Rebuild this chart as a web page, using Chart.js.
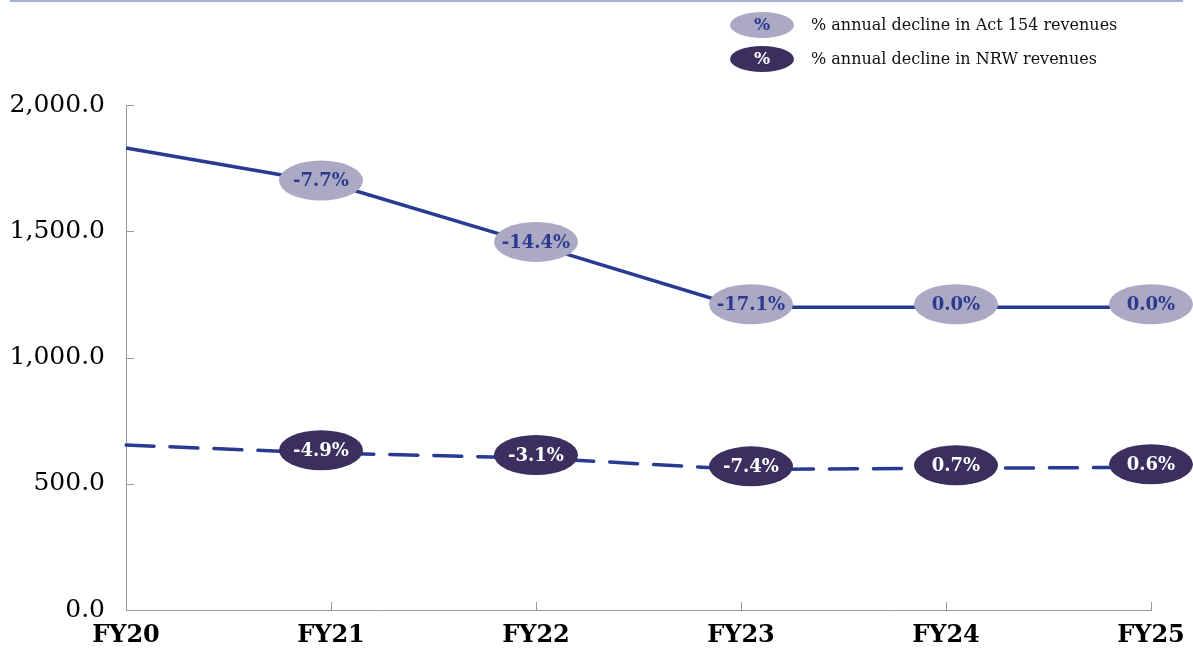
<!DOCTYPE html>
<html>
<head>
<meta charset="utf-8">
<script src="https://cdn.jsdelivr.net/npm/chart.js@4.4.0/dist/chart.umd.min.js"></script>
<style>
  html, body { margin: 0; padding: 0; background: #fff; }
  #revenues { display: block; }
</style>
</head>
<body>
<canvas id="revenues" width="1193" height="650"></canvas>
<script>
// chart data
const years = ["FY20", "FY21", "FY22", "FY23", "FY24", "FY25"];
const act154Revenues = [1830, 1689, 1446, 1199, 1199, 1199];
const nrwRevenues = [653, 621, 602, 557, 561, 565];
const act154Change = ["", "-7.7%", "-14.4%", "-17.1%", "0.0%", "0.0%"];
const nrwChange = ["", "-4.9%", "-3.1%", "-7.4%", "0.7%", "0.6%"];
const yTicks = [0, 500, 1000, 1500, 2000];
const legendNames = [
  "% annual decline in Act 154 revenues",
  "% annual decline in NRW revenues",
];

const lineColor = "#283a92";
const bubbleFill = ["#aba9c4", "#3a2f5e"];
const bubbleText = ["#2b3990", "#ffffff"];
const serif = "'DejaVu Serif', 'Liberation Serif', serif";
// small sideways shifts of the change bubbles, like the original
const bubbleNudge = [0, -10, 0, 10, 10, 0];

function ellipse(ctx, x, y, rx, ry, fill) {
  ctx.beginPath();
  ctx.ellipse(x, y, rx, ry, 0, 0, Math.PI * 2);
  ctx.fillStyle = fill;
  ctx.fill();
}

// top rule, legend, inward ticks and change bubbles
const decorations = {
  id: "decorations",
  beforeDraw(chart) {
    const ctx = chart.ctx;
    ctx.save();
    ctx.strokeStyle = "#a9b0d8";
    ctx.lineWidth = 2;
    ctx.beginPath();
    ctx.moveTo(10, 1);
    ctx.lineTo(1183, 1);
    ctx.stroke();

    // legend
    legendNames.forEach((name, i) => {
      const cy = 25 + i * 34;
      ellipse(ctx, 762, cy, 32, 13, bubbleFill[i]);
      ctx.font = "bold 17px " + serif;
      ctx.fillStyle = bubbleText[i];
      ctx.textAlign = "center";
      ctx.textBaseline = "middle";
      ctx.fillText("%", 762, cy + 1);
      ctx.font = "16px " + serif;
      ctx.fillStyle = "#111";
      ctx.textAlign = "left";
      ctx.fillText(name, 811, cy + 1);
    });

    // inward tick marks
    const x = chart.scales.x;
    const y = chart.scales.y;
    ctx.strokeStyle = "#999";
    ctx.lineWidth = 1;
    ctx.beginPath();
    x.ticks.forEach((t, i) => {
      const px = Math.round(x.getPixelForTick(i)) + 0.5;
      ctx.moveTo(px, y.bottom);
      ctx.lineTo(px, y.bottom - 8);
    });
    y.ticks.forEach((t, i) => {
      const py = Math.round(y.getPixelForTick(i)) + 0.5;
      ctx.moveTo(x.left, py);
      ctx.lineTo(x.left + 8, py);
    });
    ctx.stroke();
    ctx.restore();
  },
  afterDatasetsDraw(chart) {
    const ctx = chart.ctx;
    ctx.save();
    [act154Change, nrwChange].forEach((labels, d) => {
      const meta = chart.getDatasetMeta(d);
      meta.data.forEach((pt, i) => {
        if (!labels[i]) return;
        const cx = pt.x + bubbleNudge[i];
        ellipse(ctx, cx, pt.y - 3, 42, 20, bubbleFill[d]);
        ctx.font = "bold 18px " + serif;
        ctx.fillStyle = bubbleText[d];
        ctx.textAlign = "center";
        ctx.textBaseline = "middle";
        ctx.fillText(labels[i], cx, pt.y - 2);
      });
    });
    ctx.restore();
  },
};

const ctx = document.getElementById("revenues").getContext("2d");
const revenueChart = new Chart(ctx, {
  type: "line",
  data: {
    labels: years,
    datasets: [
      {
        label: legendNames[0],
        data: act154Revenues,
        borderColor: lineColor,
        borderWidth: 3.5,
        pointRadius: 0,
        tension: 0,
      },
      {
        label: legendNames[1],
        data: nrwRevenues,
        borderColor: lineColor,
        borderWidth: 3.5,
        borderDash: [28, 16],
        borderCapStyle: "round",
        pointRadius: 0,
        tension: 0,
      },
    ],
  },
  options: {
    responsive: false,
    devicePixelRatio: 1,
    animation: false,
    layout: { padding: { top: 105, right: 42, left: 0, bottom: 0 } },
    plugins: { legend: { display: false }, tooltip: { enabled: false } },
    scales: {
      x: {
        offset: false,
        grid: { display: false, drawTicks: false },
        border: { color: "#999", width: 1 },
        ticks: {
          autoSkip: false,
          maxRotation: 0,
          padding: 11,
          color: "#000",
          font: { family: serif, size: 24, weight: "bold" },
        },
        afterFit(scale) {
          scale.height = 40;
          scale.paddingLeft = 0;
          scale.paddingRight = 0;
        },
      },
      y: {
        min: 0,
        max: 2000,
        afterBuildTicks(scale) {
          scale.ticks = yTicks.map((v) => ({ value: v }));
        },
        grid: { display: false, drawTicks: false },
        border: { color: "#999", width: 1 },
        ticks: {
          padding: 21,
          color: "#000",
          font: { family: serif, size: 25 },
          callback: (v) =>
            v.toLocaleString("en-US", { minimumFractionDigits: 1, maximumFractionDigits: 1 }),
        },
        afterFit(scale) {
          scale.width = 126;
        },
      },
    },
  },
  plugins: [decorations],
});
</script>
</body>
</html>
